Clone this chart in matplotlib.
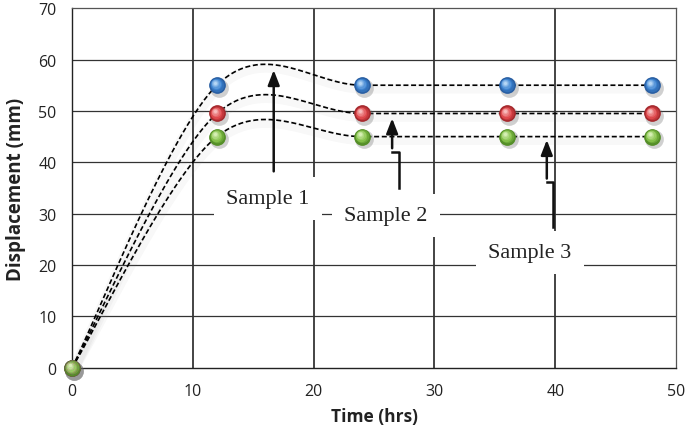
import matplotlib
matplotlib.use("Agg")
import matplotlib.pyplot as plt
import matplotlib.transforms as mtransforms
import numpy as np

time = [0, 12, 24, 36, 48]
sample1 = [0, 55, 55, 55, 55]
sample2 = [0, 49.5, 49.5, 49.5, 49.5]
sample3 = [0, 45, 45, 45, 45]

series = [
    (sample1, '#3d84d2', '#2a5fa3', '#b5d6f5'),
    (sample2, '#e0484c', '#a62a2e', '#f7bcbc'),
    (sample3, '#86c24b', '#558f28', '#d6efb4'),
]


def smooth(xs, ys, n=60):
    # bezier smoothing like spreadsheet "smoothed line"
    pts = np.column_stack([xs, ys]).astype(float)
    out = []
    for i in range(len(pts) - 1):
        p0 = pts[max(i - 1, 0)]
        p1 = pts[i]
        p2 = pts[i + 1]
        p3 = pts[min(i + 2, len(pts) - 1)]
        c1 = p1 + (p2 - p0) / 6
        c2 = p2 - (p3 - p1) / 6
        t = np.linspace(0, 1, n)[:, None]
        seg = (1-t)**3*p1 + 3*(1-t)**2*t*c1 + 3*(1-t)*t**2*c2 + t**3*p2
        out.append(seg if i == 0 else seg[1:])
    return np.vstack(out)


def blend(c1, c2, f):
    a = np.array(matplotlib.colors.to_rgb(c1))
    b = np.array(matplotlib.colors.to_rgb(c2))
    return tuple(a + (b - a) * f)


fig = plt.figure(figsize=(6.85, 4.35), dpi=100)
ax = fig.add_axes([0.105, 0.152, 0.882, 0.827])

ax.set_xlim(0, 50)
ax.set_ylim(0, 70)
ax.set_xticks(range(0, 51, 10))
ax.set_yticks(range(0, 71, 10))
for v in range(10, 50, 10):
    ax.axvline(v, color='#111111', lw=1.1, zorder=1)
for v in range(10, 70, 10):
    ax.axhline(v, color='#333333', lw=0.9, zorder=1)
for s in ['left', 'bottom']:
    ax.spines[s].set_color('#222222')
    ax.spines[s].set_linewidth(1.0)
for s in ['top', 'right']:
    ax.spines[s].set_color('#555555')
    ax.spines[s].set_linewidth(0.9)

# lines
for vals, c, dk, lt in series:
    curve = smooth(time, vals)
    sh = mtransforms.offset_copy(ax.transData, fig=fig, x=0.5, y=-2.5, units='points')
    ax.plot(curve[:, 0], curve[:, 1], color='#888888', lw=7, alpha=0.06,
            transform=sh, zorder=2, solid_capstyle='round')
    ax.plot(curve[:, 0], curve[:, 1], color='black', lw=1.2,
            dashes=(3, 1.6), zorder=3)

# sphere markers
for vals, c, dk, lt in series:
    sh = mtransforms.offset_copy(ax.transData, fig=fig, x=1.2, y=-2.0, units='points')
    ax.plot(time, vals, 'o', ms=13.5, color='#666666', alpha=0.3, mec='none',
            transform=sh, zorder=4, clip_on=False)
    ax.plot(time, vals, 'o', ms=12, mfc=dk, mec='none', zorder=5, clip_on=False)
    steps = 7
    for j in range(steps):
        f = j / (steps - 1)
        size = 11.2 * (1 - 0.8 * f)
        if f < 0.35:
            col = blend(dk, c, f / 0.35)
        else:
            col = blend(c, lt, (f - 0.35) / 0.65)
        tr = mtransforms.offset_copy(ax.transData, fig=fig, x=-1.6 * f,
                                     y=1.9 * f, units='points')
        ax.plot(time, vals, 'o', ms=size, mfc=col, mec='none', transform=tr,
                zorder=6 + j, clip_on=False)

# annotations
arrow_kw = dict(color='#111111', lw=1.8)
head_kw = dict(arrowstyle='-|>,head_length=0.9,head_width=0.35', color='#111111', lw=1.8)

ax.annotate('', xy=(16.7, 58.5), xytext=(16.7, 37.7), arrowprops=head_kw, zorder=20)

ax.plot([27.1, 27.1, 26.5], [35.0, 42.1, 42.1], **arrow_kw, zorder=20)
ax.annotate('', xy=(26.5, 49.1), xytext=(26.5, 42.2), arrowprops=head_kw, zorder=20)

ax.plot([39.8, 39.8, 39.3], [27.4, 36.2, 36.2], **arrow_kw, zorder=20)
ax.annotate('', xy=(39.3, 44.9), xytext=(39.3, 36.3), arrowprops=head_kw, zorder=20)

box = dict(boxstyle='square,pad=0.55', fc='white', ec='none')
txt_kw = dict(fontsize=16, family='Liberation Serif', ha='center', va='center',
              color='#222222', bbox=box, zorder=25)
ax.text(16.2, 33.0, 'Sample 1', **txt_kw)
ax.text(26.0, 29.6, 'Sample 2', **txt_kw)
ax.text(37.9, 22.4, 'Sample 3', **txt_kw)

ax.tick_params(length=0, labelsize=11.5, colors='#222222', pad=11)
for lab in ax.get_xticklabels() + ax.get_yticklabels():
    lab.set_family('Open Sans')
ax.set_xlabel('Time (hrs)', fontsize=12.5, fontweight='bold', family='Open Sans',
              color='#222222', labelpad=6)
ax.set_ylabel('Displacement (mm)', fontsize=13.5, fontweight='bold', family='Open Sans',
              color='#222222', labelpad=9)

fig.savefig('out.png', dpi=100)
